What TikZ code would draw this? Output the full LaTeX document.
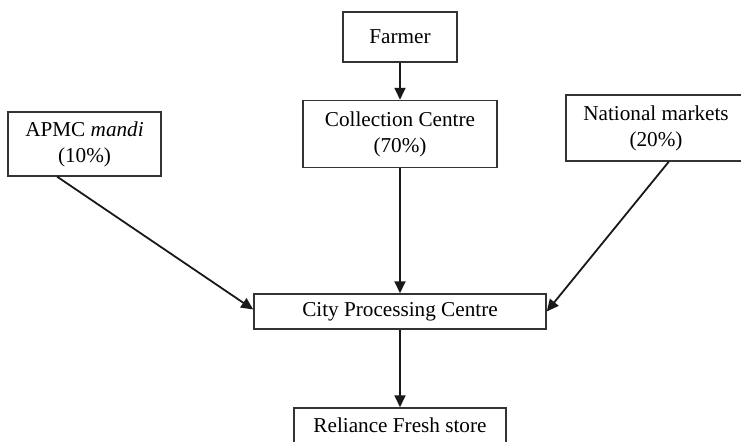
\documentclass[tikz,border=0pt]{standalone}
\usepackage{fontspec}
\setmainfont{Liberation Serif}
\usetikzlibrary{arrows.meta}
\begin{document}
\begin{tikzpicture}[x=0.5pt,y=-0.5pt,
  box/.style={draw=black!80,line width=0.75pt,inner sep=0pt,align=center,
    font=\fontsize{10.6}{13}\selectfont},
  arr/.style={draw=black!90,line width=0.9pt,-{Triangle[length=6pt,width=5.5pt]}}]
\useasboundingbox (0,0) rectangle (741,441);
\node[box,minimum width=57pt,minimum height=25pt] (farmer) at (400,37) {Farmer};
\node[box,minimum width=76.5pt,minimum height=32pt] (apmc) at (84.5,144) {APMC \textit{mandi}\\(10\%)};
\node[box,minimum width=97pt,minimum height=33.5pt] (coll) at (400,134) {Collection Centre\\(70\%)};
\node[box,minimum width=90pt,minimum height=33pt] (nat) at (656,128) {National markets\\(20\%)};
\node[box,minimum width=146pt,minimum height=17.5pt] (city) at (400,311.5) {City Processing Centre};
\node[box,minimum width=106pt,minimum height=17.5pt] (rel) at (400,425.5) {Reliance Fresh store};
\draw[arr] (farmer) -- (coll);
\draw[arr] (coll) -- (city);
\draw[arr] (city) -- (rel);
\draw[arr] ([xshift=25pt]apmc.south west) -- ([yshift=1pt]city.west);
\draw[arr] ([xshift=-39pt]nat.south east) -- (city.east);
\end{tikzpicture}
\end{document}
